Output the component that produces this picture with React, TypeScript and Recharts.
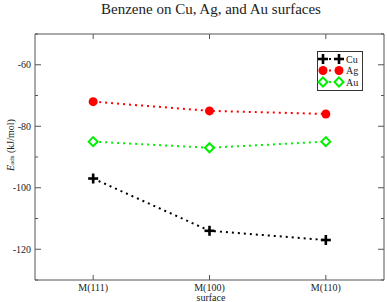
import React from 'react';
import { LineChart, Line, XAxis, YAxis, Legend } from 'recharts';

const categories = ['M(111)', 'M(100)', 'M(110)'];
const cuValues = [-97, -114, -117];
const agValues = [-72, -75, -76];
const auValues = [-85, -87, -85];
const seriesNames = ['Cu', 'Ag', 'Au'];
const yTicks = [-130, -120, -110, -100, -90, -80, -70, -60, -50];
const yLabeled = [-120, -100, -80, -60];
const xTicks = [1, 2, 3];

const data = categories.map((c, i) => ({
  x: i + 1,
  name: c,
  cu: cuValues[i],
  ag: agValues[i],
  au: auValues[i],
}));

const FONT = '"Liberation Serif", "DejaVu Serif", serif';
const AXIS = '#555';
const TEXT = '#222';
const RED = '#ff0000';
const GREEN = '#00ee00';

const Plus = ({ cx, cy }: any) => (
  <g>
    <line x1={cx - 5} y1={cy} x2={cx + 5} y2={cy} stroke="#000" strokeWidth={2.6} />
    <line x1={cx} y1={cy - 5} x2={cx} y2={cy + 5} stroke="#000" strokeWidth={2.6} />
  </g>
);
const Circle = ({ cx, cy }: any) => <circle cx={cx} cy={cy} r={4.5} fill={RED} stroke="none" />;
const Diamond = ({ cx, cy }: any) => (
  <path
    d={`M${cx},${cy - 4.5}L${cx + 4.5},${cy}L${cx},${cy + 4.5}L${cx - 4.5},${cy}Z`}
    fill="#fff"
    stroke={GREEN}
    strokeWidth={2}
  />
);

const markers = [Plus, Circle, Diamond];
const colors = ['#000', RED, GREEN];

const mkDot = (Comp: any) => (props: any) => {
  const { cx, cy, index } = props;
  return <Comp key={`d-${index}`} cx={cx} cy={cy} />;
};

const BottomTick = (props: any) => {
  const { x, y, payload } = props;
  return (
    <g>
      <line x1={x} y1={y} x2={x} y2={y - 5} stroke={AXIS} strokeWidth={1} />
      <text x={x} y={y + 7} textAnchor="middle" dominantBaseline="central" fontFamily={FONT} fontSize={10} fill={TEXT}>
        {categories[payload.value - 1]}
      </text>
    </g>
  );
};

const TopTick = (props: any) => {
  const { x, y } = props;
  return <line x1={x} y1={y} x2={x} y2={y + 5} stroke={AXIS} strokeWidth={1} />;
};

const LeftTick = (props: any) => {
  const { x, y, payload } = props;
  const major = yLabeled.includes(payload.value);
  return (
    <g>
      <line x1={x} y1={y} x2={x + (major ? 6 : 3)} y2={y} stroke={AXIS} strokeWidth={1} />
      {major && (
        <text x={x - 4} y={y} textAnchor="end" dominantBaseline="central" fontFamily={FONT} fontSize={10} fill={TEXT}>
          {payload.value}
        </text>
      )}
    </g>
  );
};

const RightTick = (props: any) => {
  const { x, y, payload } = props;
  const major = yLabeled.includes(payload.value);
  return <line x1={x} y1={y} x2={x - (major ? 6 : 3)} y2={y} stroke={AXIS} strokeWidth={1} />;
};

const YLabel = () => {
  const cx = 10;
  const cy = 145;
  return (
    <text
      x={cx}
      y={cy}
      transform={`rotate(-90 ${cx} ${cy})`}
      textAnchor="middle"
      dominantBaseline="central"
      fontFamily={FONT}
      fontSize={10}
      fill={TEXT}
    >
      <tspan fontStyle="italic">E</tspan>
      <tspan fontSize={7} dy={2}>ads</tspan>
      <tspan dy={-2}> (kJ/mol)</tspan>
    </text>
  );
};

const XLabel = () => (
  <text x={211} y={297} textAnchor="middle" dominantBaseline="central" fontFamily={FONT} fontSize={10} fill={TEXT}>
    surface
  </text>
);

const TitleLabel = () => (
  <text x={211} y={14} textAnchor="middle" fontFamily={FONT} fontSize={15} fill={TEXT}>
    Benzene on Cu, Ag, and Au surfaces
  </text>
);

const renderLegend = () => (
  <svg width={47} height={41} style={{ display: 'block' }}>
    <rect x={0.5} y={0.5} width={45} height={39} fill="#fff" stroke="#333" strokeWidth={1} />
    {seriesNames.map((n, i) => {
      const M = markers[i];
      const y = 8 + i * 11.5;
      return (
        <g key={n}>
          <line x1={6} y1={y} x2={22} y2={y} stroke={colors[i]} strokeWidth={2} strokeDasharray="2 4" />
          <M cx={6} cy={y} />
          <M cx={22} cy={y} />
          <text x={29} y={y} dominantBaseline="central" fontFamily={FONT} fontSize={10} fill={TEXT}>
            {n}
          </text>
        </g>
      );
    })}
  </svg>
);

export default function App() {
  return (
    <div style={{ position: 'absolute', left: 0, top: 0, width: 387, height: 302, background: '#fff' }}>
      <LineChart width={387} height={302} data={data} margin={{ top: 33, right: 0, bottom: 0, left: 0 }}>
        <XAxis
          xAxisId="bottom"
          dataKey="x"
          type="number"
          domain={[0.5, 3.5]}
          ticks={xTicks}
          orientation="bottom"
          height={22}
          tickLine={false}
          tickSize={0}
          tickMargin={0}
          tick={<BottomTick />}
          axisLine={{ stroke: AXIS }}
          allowDataOverflow
          label={<XLabel />}
        />
        <XAxis
          xAxisId="top"
          dataKey="x"
          type="number"
          domain={[0.5, 3.5]}
          ticks={xTicks}
          orientation="top"
          height={1}
          tickLine={false}
          tickSize={0}
          tickMargin={0}
          tick={<TopTick />}
          axisLine={{ stroke: AXIS }}
          allowDataOverflow
          label={<TitleLabel />}
        />
        <YAxis
          yAxisId="left"
          type="number"
          domain={[-130, -50]}
          ticks={yTicks}
          width={35}
          tickLine={false}
          tickSize={0}
          tickMargin={0}
          tick={<LeftTick />}
          axisLine={{ stroke: AXIS }}
          allowDataOverflow
          interval={0}
          label={<YLabel />}
        />
        <YAxis
          yAxisId="right"
          orientation="right"
          type="number"
          domain={[-130, -50]}
          ticks={yTicks}
          width={3}
          tickLine={false}
          tickSize={0}
          tickMargin={0}
          tick={<RightTick />}
          axisLine={{ stroke: AXIS }}
          allowDataOverflow
          interval={0}
        />
        <Legend
          layout="vertical"
          align="center"
          verticalAlign="middle"
          content={renderLegend}
          wrapperStyle={{ position: 'absolute', left: 317, top: 51, width: 47, height: 41 }}
        />
        <Line
          xAxisId="bottom"
          yAxisId="left"
          dataKey="cu"
          name="Cu"
          stroke="#000"
          strokeWidth={2}
          strokeDasharray="2 4"
          dot={mkDot(Plus)}
          isAnimationActive={false}
        />
        <Line
          xAxisId="bottom"
          yAxisId="left"
          dataKey="ag"
          name="Ag"
          stroke={RED}
          strokeWidth={2}
          strokeDasharray="2 4"
          dot={mkDot(Circle)}
          isAnimationActive={false}
        />
        <Line
          xAxisId="bottom"
          yAxisId="left"
          dataKey="au"
          name="Au"
          stroke={GREEN}
          strokeWidth={2}
          strokeDasharray="2 4"
          dot={mkDot(Diamond)}
          isAnimationActive={false}
        />
      </LineChart>
    </div>
  );
}
